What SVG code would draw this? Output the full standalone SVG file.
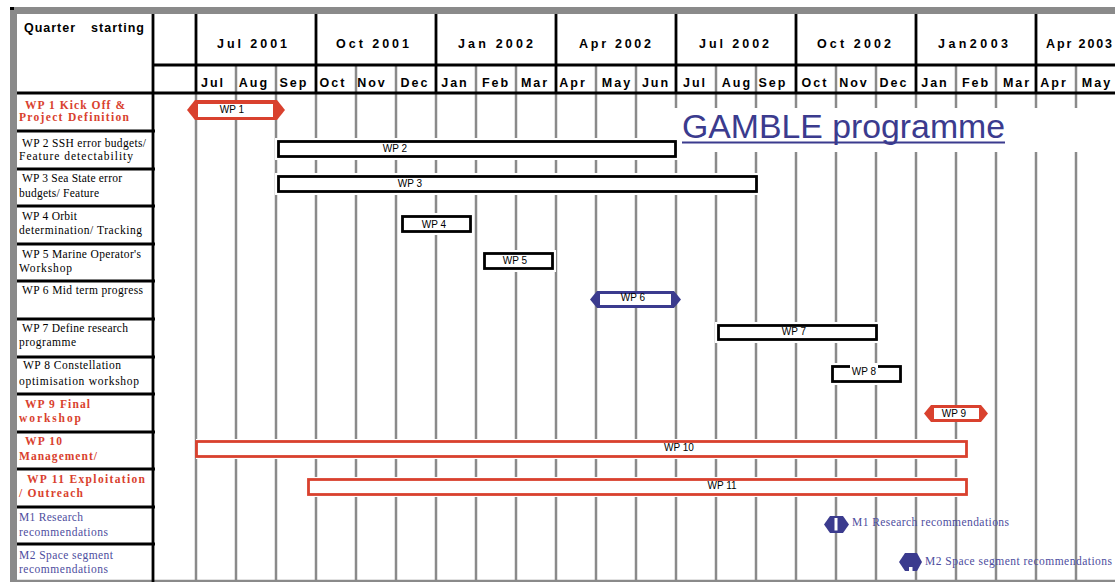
<svg xmlns="http://www.w3.org/2000/svg" width="1115" height="582" viewBox="0 0 1115 582">
<defs>
<style>
.g{stroke:#8a8a8a;stroke-width:2.5;fill:none}
.k{stroke:#000;stroke-width:2.8;fill:none}
.hq{font-family:"Liberation Sans",Arial,sans-serif;font-weight:bold;font-size:12.5px;fill:#000}
.hm{font-family:"Liberation Sans",Arial,sans-serif;font-weight:bold;font-size:12.5px;fill:#000;text-anchor:middle;letter-spacing:2px}
.bt{font-family:"Liberation Sans",Arial,sans-serif;font-size:10px;fill:#000;text-anchor:middle}
.lb{font-family:"Liberation Serif","Times New Roman",serif;font-size:11.5px;fill:#000}
.lr{font-family:"Liberation Serif","Times New Roman",serif;font-size:11.5px;font-weight:bold;fill:#d9412e}
.lm{font-family:"Liberation Serif","Times New Roman",serif;font-size:11.5px;fill:#4d4d9e}
.barK{fill:#fff;stroke:#000;stroke-width:2.8}
.barR{fill:#fff;stroke:#d9412e;stroke-width:2.8}
.halo{fill:#fff}
.red{fill:#d9412e}
.blue{fill:#3b3b8e}
</style>
</defs>
<rect x="0" y="0" width="1115" height="582" fill="#fff"/>

<!-- grid -->
<g id="grid">
<g class="g">
<path d="M196 93V581M236 93V581M276 93V581M316 93V581M356 93V581M396 93V581M436 93V581M476 93V581M516 93V581M556 93V581M596 93V581M636 93V581M676 93V581M716 93V581M756 93V581M796 93V581M836 93V581M876 93V581M916 93V581M956 93V581M996 93V581M1036 93V581M1076 93V581"/>
<path d="M236 65V93M276 65V93M356 65V93M396 65V93M476 65V93M516 65V93M596 65V93M636 65V93M716 65V93M756 65V93M836 65V93M876 65V93M956 65V93M996 65V93M1076 65V93"/>
<path d="M10 581H1115"/>
</g>
<rect x="10" y="7" width="1105" height="7" fill="#8a8a8a"/>
<rect x="10" y="7" width="7" height="574" fill="#8a8a8a"/>
<rect x="10" y="7" width="4" height="3" fill="#000"/>
<g class="k">
<path d="M153 14V582"/>
<path d="M196 14V93M316 14V93M436 14V93M556 14V93M676 14V93M796 14V93M916 14V93M1036 14V93"/>
<path d="M153 65H1115"/>
<path d="M17 93H1115"/>
<path d="M17 131H155M17 169H155M17 206H155M17 244H155M17 281H155M17 319H155M17 357H155M17 394H155M17 432H155M17 469H155M17 507H155M17 544H155"/>
</g>
</g>

<!-- header -->
<g id="header">
<text class="hq" x="24" y="32" textLength="51" lengthAdjust="spacing">Quarter</text>
<text class="hq" x="91" y="32" textLength="53" lengthAdjust="spacing">starting</text>
<text class="hq" x="217" y="48" textLength="70" lengthAdjust="spacing">Jul 2001</text>
<text class="hq" x="336" y="48" textLength="73" lengthAdjust="spacing">Oct 2001</text>
<text class="hq" x="458" y="48" textLength="75" lengthAdjust="spacing">Jan 2002</text>
<text class="hq" x="579" y="48" textLength="72" lengthAdjust="spacing">Apr 2002</text>
<text class="hq" x="699" y="48" textLength="70" lengthAdjust="spacing">Jul 2002</text>
<text class="hq" x="817" y="48" textLength="74" lengthAdjust="spacing">Oct 2002</text>
<text class="hq" x="938" y="48" textLength="70" lengthAdjust="spacing">Jan2003</text>
<text class="hq" x="1046" y="48" textLength="66" lengthAdjust="spacing">Apr 2003</text>
<text class="hm" x="213" y="87">Jul</text>
<text class="hm" x="254" y="87">Aug</text>
<text class="hm" x="294" y="87">Sep</text>
<text class="hm" x="333" y="87">Oct</text>
<text class="hm" x="372" y="87">Nov</text>
<text class="hm" x="415" y="87">Dec</text>
<text class="hm" x="455" y="87">Jan</text>
<text class="hm" x="496" y="87">Feb</text>
<text class="hm" x="535" y="87" letter-spacing="3">Mar</text>
<text class="hm" x="573" y="87">Apr</text>
<text class="hm" x="617" y="87">May</text>
<text class="hm" x="656" y="87">Jun</text>
<text class="hm" x="695" y="87">Jul</text>
<text class="hm" x="737" y="87">Aug</text>
<text class="hm" x="773" y="87">Sep</text>
<text class="hm" x="815" y="87">Oct</text>
<text class="hm" x="854" y="87">Nov</text>
<text class="hm" x="894" y="87">Dec</text>
<text class="hm" x="935" y="87">Jan</text>
<text class="hm" x="976" y="87">Feb</text>
<text class="hm" x="1017" y="87" letter-spacing="3">Mar</text>
<text class="hm" x="1054" y="87">Apr</text>
<text class="hm" x="1097" y="87">May</text>
</g>

<!-- title -->
<g id="title">
<rect class="halo" x="674" y="108" width="408" height="44"/>
<text x="682" y="138" font-family="Liberation Sans, Arial, sans-serif" font-size="33" fill="#3b3b8e" textLength="323" lengthAdjust="spacingAndGlyphs">GAMBLE programme</text>
<path d="M682 142.5H1005" stroke="#3b3b8e" stroke-width="2"/>
</g>

<g id="wp1">
<text class="lr" x="25" y="109" textLength="100" lengthAdjust="spacing">WP 1  Kick Off &amp;</text>
<text class="lr" x="19" y="121" textLength="110" lengthAdjust="spacing">Project   Definition</text>
<polygon class="red" points="187,110 195,100 277,100 285,110 277,120 195,120"/>
<rect x="198" y="104" width="75" height="13" fill="#fff"/>
<text class="bt" x="232" y="112.5">WP 1</text>
</g>

<g id="wp2">
<text class="lb" x="22" y="146.5" textLength="124" lengthAdjust="spacing">WP 2 SSH error budgets/</text>
<text class="lb" x="19" y="160" textLength="114" lengthAdjust="spacing">Feature  detectability</text>
<rect class="halo" x="275" y="138" width="404" height="22"/>
<rect class="barK" x="278.5" y="141.5" width="397" height="15"/>
<text class="bt" x="395" y="151.5">WP 2</text>
</g>

<g id="wp3">
<text class="lb" x="22" y="182" textLength="100" lengthAdjust="spacing">WP 3 Sea State error</text>
<text class="lb" x="19" y="196.5" textLength="80" lengthAdjust="spacing">budgets/ Feature</text>
<rect class="halo" x="275" y="173" width="485" height="22"/>
<rect class="barK" x="278.5" y="176.5" width="478" height="15"/>
<text class="bt" x="410" y="186.5">WP 3</text>
</g>

<g id="wp4">
<text class="lb" x="22" y="219.5" textLength="55" lengthAdjust="spacing">WP 4 Orbit</text>
<text class="lb" x="19" y="234" textLength="123" lengthAdjust="spacing">determination/  Tracking</text>
<rect class="halo" x="399" y="213" width="75" height="22"/>
<rect class="barK" x="402.5" y="216.5" width="68" height="15"/>
<text class="bt" x="434" y="227.5">WP 4</text>
</g>

<g id="wp5">
<text class="lb" x="22" y="258" textLength="119" lengthAdjust="spacing">WP 5 Marine Operator's</text>
<text class="lb" x="19" y="272" textLength="53" lengthAdjust="spacing">Workshop</text>
<rect class="halo" x="481" y="250" width="75" height="22"/>
<rect class="barK" x="484.5" y="253.5" width="68" height="15"/>
<text class="bt" x="515" y="263.5">WP 5</text>
</g>

<g id="wp6">
<text class="lb" x="22" y="294" textLength="121" lengthAdjust="spacing">WP 6 Mid term progress</text>
<polygon class="blue" points="590,299.5 597,291 674,291 681,299.5 674,308 597,308"/>
<rect x="600" y="294" width="71" height="11" fill="#fff"/>
<text class="bt" x="633" y="300.5">WP 6</text>
</g>

<g id="wp7">
<text class="lb" x="22" y="332" textLength="106" lengthAdjust="spacing">WP 7 Define research</text>
<text class="lb" x="19" y="346" textLength="57" lengthAdjust="spacing">programme</text>
<rect class="halo" x="715" y="322" width="165" height="21"/>
<rect class="barK" x="718.5" y="325.5" width="158" height="14"/>
<text class="bt" x="794" y="334.5">WP 7</text>
</g>

<g id="wp8">
<text class="lb" x="23" y="369" textLength="98" lengthAdjust="spacing">WP 8  Constellation</text>
<text class="lb" x="19" y="385" textLength="120" lengthAdjust="spacing">optimisation  workshop</text>
<rect class="halo" x="829" y="363" width="75" height="22"/>
<rect class="barK" x="832.5" y="366.5" width="68" height="15"/>
<rect x="850" y="365" width="28" height="9" fill="#fff"/>
<text class="bt" x="864" y="374.5">WP 8</text>
</g>

<g id="wp9">
<text class="lr" x="25" y="407.5" textLength="65" lengthAdjust="spacing">WP 9  Final</text>
<text class="lr" x="19" y="422" textLength="62" lengthAdjust="spacing">workshop</text>
<polygon class="red" points="924,413.5 931,405 981,405 988,413.5 981,422 931,422"/>
<rect x="934" y="408" width="45" height="11" fill="#fff"/>
<text class="bt" x="954" y="416.5">WP 9</text>
</g>

<g id="wp10">
<text class="lr" x="25" y="445" textLength="37" lengthAdjust="spacing">WP 10</text>
<text class="lr" x="19" y="460" textLength="78" lengthAdjust="spacing">Management/</text>
<rect class="halo" x="196" y="439" width="774" height="20"/>
<rect class="barR" x="196.5" y="441.5" width="770" height="15"/>
<text class="bt" x="679" y="450.5">WP 10</text>
</g>

<g id="wp11">
<text class="lr" x="27" y="483" textLength="118" lengthAdjust="spacing">WP 11  Exploitation</text>
<text class="lr" x="19" y="497" textLength="64" lengthAdjust="spacing">/  Outreach</text>
<rect class="halo" x="306" y="477" width="664" height="20"/>
<rect class="barR" x="308.5" y="479.5" width="658" height="15"/>
<text class="bt" x="722" y="488.5">WP 11</text>
</g>

<g id="m1">
<text class="lm" x="19" y="521" textLength="64" lengthAdjust="spacing">M1 Research</text>
<text class="lm" x="19" y="536" textLength="89" lengthAdjust="spacing">recommendations</text>
<polygon class="blue" points="824,524.5 830,516 843,516 849,524.5 843,533 830,533"/>
<rect x="834.5" y="518" width="3" height="12.5" fill="#fff"/>
<text class="lm" x="852" y="526" textLength="157" lengthAdjust="spacing">M1 Research recommendations</text>
</g>

<g id="m2">
<text class="lm" x="19" y="558.5" textLength="94" lengthAdjust="spacing">M2 Space segment</text>
<text class="lm" x="19" y="573" textLength="89" lengthAdjust="spacing">recommendations</text>
<polygon class="blue" points="899,562 905,553 917,553 922,562 917,571 905,571"/>
<rect x="909" y="567" width="3.5" height="5" fill="#fff"/>
<text class="lm" x="925" y="565" textLength="187" lengthAdjust="spacing">M2 Space segment recommendations</text>
</g>
</svg>
